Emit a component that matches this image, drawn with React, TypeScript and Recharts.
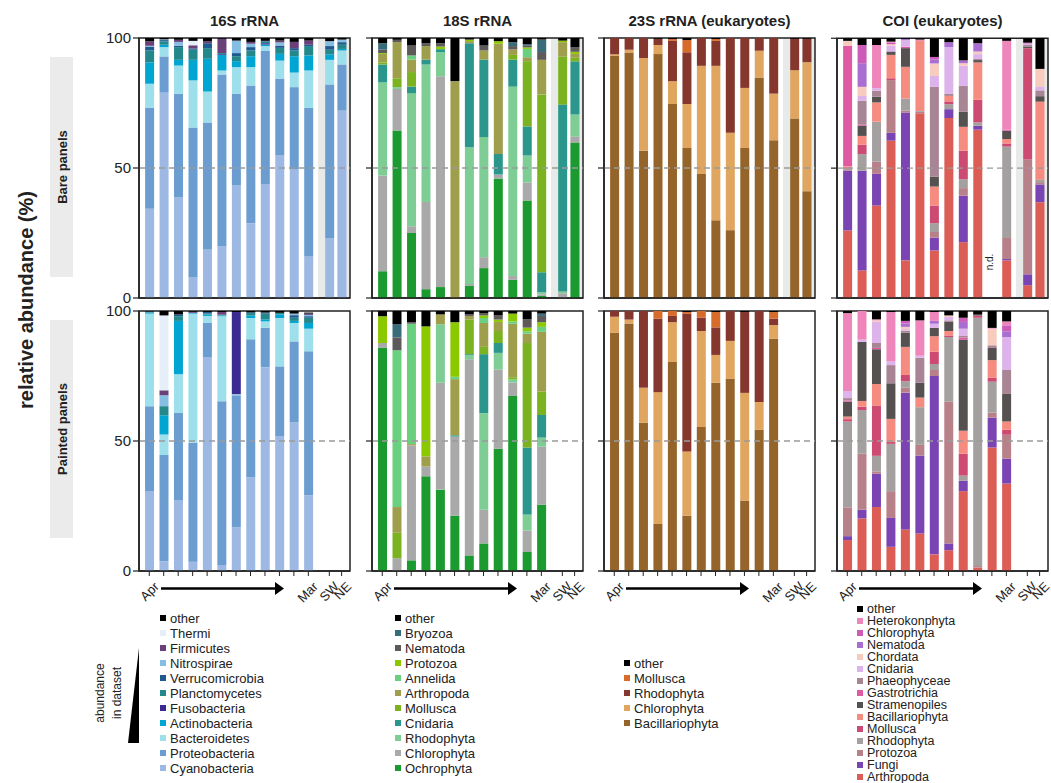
import { BarChart, Bar, XAxis, YAxis, ReferenceArea, ReferenceLine } from 'recharts';

const FONT = '"Liberation Sans", Arial, Helvetica, sans-serif';
const INK = '#222';

// x slot of every sample: 12 months Apr..Mar, then the SW and NE sites
const slotX = [1, 2, 3, 4, 5, 6, 7, 8, 9, 10, 11, 12, 13.45, 14.3];
const tickLabels = ['Apr', '', '', '', '', '', '', '', '', '', '', 'Mar', 'SW', 'NE'];
const DOMAIN: [number, number] = [0.29, 14.88];

// ---- 16S rRNA (stack order bottom -> top) ----
const taxa16S = ['Cyanobacteria', 'Proteobacteria', 'Bacteroidetes', 'Actinobacteria', 'Fusobacteria', 'Planctomycetes', 'Verrucomicrobia', 'Nitrospirae', 'Firmicutes', 'Thermi', 'other'];
const colors16S = ['#9db9e3', '#6b9dd0', '#9ddfea', '#00a5d2', '#3a2a92', '#24878a', '#1f5a8e', '#86bde2', '#6a4079', '#e5eef9', '#000000'];
const bare16S = [
  [34.3, 38.8, 9.3, 8.2, 0, 4.6, 1.5, 0.3, 1.7, 0, 1.3],
  [79, 13.9, 3.6, 0.9, 0, 1.3, 0.5, 0.3, 0, 0, 0.5],
  [38.7, 39.8, 10.9, 2.2, 0, 4.9, 0.5, 1.5, 0.8, 0, 0.7],
  [7.9, 57.7, 18.1, 7.9, 0, 3.9, 0.5, 0, 1.2, 1.7, 1.1],
  [18.7, 48.8, 11.9, 12.6, 0, 4.1, 1.9, 0, 0.8, 0, 1.2],
  [19.8, 66.2, 1.5, 6, 0.3, 0.4, 0, 0, 5.5, 0, 0.3],
  [43.3, 35.2, 10.3, 2.3, 0, 1.9, 1.2, 4.8, 0, 0, 1],
  [28.8, 52.9, 7.1, 4.2, 0, 2.2, 1.3, 1.3, 0.7, 0, 1.5],
  [43.8, 51.2, 1.9, 0.6, 0.5, 0.6, 0.3, 0, 0, 0, 1.1],
  [54.8, 29.6, 6.9, 2.6, 0, 2.3, 0.9, 1.2, 0.7, 0, 1],
  [49.4, 31.7, 5.6, 6.3, 0, 2.2, 0.9, 0, 2.4, 0, 1.5],
  [16, 57.1, 14.4, 5.8, 0, 3.6, 0.5, 0, 1.6, 0, 1],
  [23.1, 59, 9.5, 2.1, 0, 1.8, 1.4, 1.9, 0, 0, 1.2],
  [72.1, 17.7, 5.4, 0.6, 0, 1.6, 1, 1, 0, 0, 0.6],
];
const painted16S = [
  [30.7, 32.7, 35.6, 0.4, 0, 0.2, 0.2, 0, 0, 0, 0.2],
  [3.8, 40.8, 7.9, 7.4, 0, 3.5, 0, 4.2, 1.9, 28.8, 1.7],
  [27.3, 33.5, 14.9, 20.5, 0, 1.8, 0.7, 0, 0, 0, 1.3],
  [3.6, 45.7, 49.7, 0.3, 0, 0, 0, 0, 0.4, 0, 0.3],
  [82.3, 13.1, 2.7, 0.6, 0, 0.3, 0.6, 0, 0, 0, 0.4],
  [2.3, 63, 32.7, 0.3, 0, 0.3, 0, 0, 1, 0, 0.4],
  [16.9, 50.7, 0.4, 0, 31.6, 0, 0, 0, 0, 0, 0.4],
  [36.1, 53, 8.2, 1, 0, 0.9, 0.3, 0, 0, 0, 0.5],
  [78.4, 15.1, 2.5, 0.8, 0, 2.2, 0.4, 0, 0, 0, 0.6],
  [51.9, 26.8, 18.6, 1.4, 0, 0.6, 0, 0, 0, 0, 0.7],
  [57.2, 31.1, 7.1, 0.8, 0, 1.2, 1, 0.6, 0, 0, 1],
  [29.2, 55.3, 8.7, 2.2, 0, 2, 0.6, 0.5, 0.5, 0, 0.4],
];

// ---- 18S rRNA ----
const taxa18S = ['Ochrophyta', 'Chlorophyta', 'Rhodophyta', 'Cnidaria', 'Mollusca', 'Arthropoda', 'Annelida', 'Protozoa', 'Nematoda', 'Bryozoa', 'other'];
const colors18S = ['#1a9a2f', '#a9a9a9', '#7ecd95', '#2a968c', '#7ab31f', '#9f9e4c', '#68d07f', '#8cc800', '#5e5a5a', '#386c7a', '#000000'];
const bare18S = [
  [10.3, 36.8, 35.8, 6.9, 0.8, 3.3, 0, 0.3, 1.3, 2.5, 2],
  [64.4, 16, 0.7, 0, 3.4, 13.9, 0, 0, 0.9, 0, 0.7],
  [25, 2.6, 51.2, 2.5, 5.6, 4.8, 1.6, 0, 3.8, 0, 2.9],
  [3.4, 33.5, 52.9, 1.9, 0, 5.2, 0, 0, 1.1, 0, 2],
  [4.2, 81.1, 9.3, 1.1, 0, 0, 0, 1, 1.3, 0, 2],
  [0, 0, 0, 0, 0, 83.4, 0, 0, 0, 0, 16.6],
  [4.8, 0.6, 52.6, 40, 0, 0.8, 0, 0.6, 0, 0, 0.6],
  [11.5, 4.2, 46.2, 29.8, 0, 3.5, 0, 0, 1.9, 0, 2.9],
  [46, 1.5, 0, 7.9, 0, 42.4, 0, 1, 0, 0, 1.2],
  [7, 1.5, 72.8, 10.4, 1.8, 2.1, 0, 0, 1.3, 1.5, 1.6],
  [37.5, 6.9, 10.4, 11.2, 25.1, 1.5, 3.2, 0.6, 0.6, 0.6, 2.4],
  [0.8, 0.6, 0.8, 7.7, 68.4, 13.3, 0, 0, 3, 4.8, 0.6],
  [0, 1.8, 0.7, 71.9, 18.5, 5.5, 0, 0.6, 0, 0, 1],
  [59.8, 2.3, 8.5, 20.4, 1.4, 1.5, 0, 0.8, 1.8, 0, 3.5],
];
const painted18S = [
  [85.8, 1.9, 0, 0, 0, 0, 0, 10.3, 0, 0, 2],
  [0, 4.9, 0, 0, 9.8, 9.9, 60.3, 0, 4.9, 5.1, 5.1],
  [4.1, 44.2, 0, 0, 0, 0.5, 46.3, 0, 0.6, 0, 4.3],
  [36.4, 3.8, 0, 0, 0, 3.9, 0, 50, 0, 0, 5.9],
  [31.3, 41.1, 22.5, 0, 0, 3.8, 0, 0, 0, 0, 1.3],
  [21.3, 30.4, 0, 0.5, 0, 21.6, 0.9, 21, 0, 0, 4.3],
  [6, 75.4, 1.6, 0.4, 13.3, 1.4, 0, 0, 0.6, 0, 1.3],
  [10.6, 13, 37.1, 22.7, 2.8, 9.2, 1.9, 1, 0.9, 0, 0.8],
  [47, 30.5, 6.4, 3.8, 4.6, 3.5, 0, 0.9, 1.6, 0, 1.7],
  [67.3, 5.2, 1.2, 0, 0.8, 20.6, 0.9, 3, 0, 0, 1],
  [7.3, 8.3, 6.1, 25.8, 40.2, 3.6, 0.9, 1.4, 3.2, 0, 3.2],
  [25.5, 22.3, 3.5, 8.7, 9, 23, 1.9, 1.8, 2.4, 0.9, 1],
];

// ---- 23S rRNA (eukaryotes) ----
const taxa23S = ['Bacillariophyta', 'Chlorophyta', 'Rhodophyta', 'Mollusca', 'other'];
const colors23S = ['#94642a', '#e0a65f', '#85372d', '#d86a2a', '#000000'];
const bare23S = [
  [93.1, 0.6, 6.3, 0, 0],
  [94.4, 1.1, 4.5, 0, 0],
  [56.6, 35.7, 7.7, 0, 0],
  [93.8, 3.5, 2.4, 0, 0.3],
  [74.6, 8.8, 15.5, 0.7, 0.4],
  [57.7, 16.9, 19.9, 4.7, 0.8],
  [47.7, 41.6, 10.7, 0, 0],
  [29.9, 59.4, 9.6, 0.7, 0.4],
  [26.1, 37.5, 36.4, 0, 0],
  [57.7, 23.1, 19.2, 0, 0],
  [84.8, 10.3, 4.9, 0, 0],
  [60.7, 17.9, 21.4, 0, 0],
  [69, 18.6, 12.1, 0, 0.3],
  [41.1, 49.6, 9, 0, 0.3],
];
const painted23S = [
  [91.6, 6.2, 2.2, 0, 0],
  [95.2, 1.5, 3.3, 0, 0],
  [57, 13.5, 29.5, 0, 0],
  [18.1, 50.7, 28.3, 2.9, 0],
  [80.4, 15.3, 2.4, 1.9, 0],
  [21.3, 24.7, 52.9, 0.7, 0.4],
  [55.4, 36.9, 5.2, 2.5, 0],
  [72.4, 10.7, 10.6, 5.9, 0.4],
  [73.9, 14.6, 11.5, 0, 0],
  [27.1, 41.4, 31.1, 0, 0.4],
  [54.3, 10.7, 35, 0, 0],
  [89.3, 5.3, 2.5, 2.5, 0.4],
];

// ---- COI (eukaryotes) ----
const taxaCOI = ['Arthropoda', 'Fungi', 'Protozoa', 'Rhodophyta', 'Mollusca', 'Bacillariophyta', 'Stramenopiles', 'Gastrotrichia', 'Phaeophyceae', 'Cnidaria', 'Chordata', 'Nematoda', 'Chlorophyta', 'Heterokonphyta', 'other'];
const colorsCOI = ['#dc5d55', '#7a45b3', '#b8818a', '#a3a09f', '#cd4a72', '#f68b80', '#555151', '#e05aa3', '#a88595', '#dcb3ea', '#f7cbbd', '#a86ed2', '#cc5cb8', '#ef86bb', '#000000'];
const bareCOI = [
  [26, 23, 0.6, 0.6, 0.3, 0.3, 0, 46.3, 0, 0, 1.9, 0, 0, 0, 1],
  [10.6, 38.4, 0, 6.4, 3.6, 3.4, 3.9, 0.4, 9.2, 1.9, 3.5, 9.1, 7, 0, 2.6],
  [35.6, 12.2, 4.7, 15.4, 0, 7.4, 2.2, 0, 2.3, 1, 0, 0, 0, 16.6, 2.6],
  [60.6, 3, 20.3, 0, 0.7, 9, 1.3, 0, 0, 2.3, 0.5, 0, 0.5, 0.5, 1.3],
  [14.5, 56.9, 0.7, 4.7, 0, 12.2, 7.2, 0.5, 0, 2.6, 0, 0.4, 0, 0, 0.3],
  [71.1, 0, 0.6, 0.3, 0, 27.2, 0, 0, 0, 0, 0, 0, 0.3, 0, 0.5],
  [18.3, 4.9, 2.2, 3.4, 6.8, 7.3, 3.8, 0, 34.6, 4.2, 4.8, 1.6, 0.9, 0, 7.2],
  [69.3, 3.4, 0, 1.9, 1.1, 2.1, 0, 0, 0.9, 17.9, 0, 1.9, 0, 0, 1.4],
  [21.5, 17.9, 2.9, 3.4, 11, 9.2, 5.8, 0, 10, 7.7, 1, 1.1, 0, 0, 8.5],
  [64.8, 1.5, 0, 1.3, 8.7, 14.4, 0.9, 0, 0.4, 1.9, 1, 3.2, 0, 0, 1.9],
  null,
  [14.5, 0.5, 8.1, 35.2, 1.2, 1.7, 3.2, 0.4, 0, 0, 0, 0, 0, 34.2, 1],
  [4.9, 4.2, 44.2, 0, 42.9, 0, 0.6, 0, 0.6, 0.6, 0, 0, 0.3, 0, 1.7],
  [36.9, 6.8, 0.9, 0.9, 0, 30.1, 2.1, 0, 2.2, 1.5, 6.8, 0, 0, 0, 11.9],
];
const paintedCOI = [
  [11.9, 1.5, 11.1, 33, 0.9, 1, 5.7, 0.5, 0.9, 2.7, 0, 0, 0, 30, 0.8],
  [20.2, 3.4, 21.5, 16.8, 1.3, 2.2, 22.7, 0, 0, 0.9, 0, 0, 0, 11, 0],
  [24.6, 12.8, 0.9, 6, 19.2, 8.4, 13.4, 0.5, 1.9, 8.1, 0.6, 0, 0, 0.4, 3.2],
  [9.3, 11.1, 10.3, 18.2, 0.7, 8.9, 13.7, 0, 7, 1.5, 0, 0, 0, 18.9, 0.4],
  [16, 52.6, 1.9, 2.5, 2.4, 10.8, 5.4, 0, 0.8, 0.6, 0.9, 1.3, 1, 0, 3.8],
  [14.4, 30, 4.1, 14.5, 0, 3.7, 5.7, 0, 9.6, 0.8, 0, 0, 0, 13.6, 3.6],
  [6.4, 68.6, 2.3, 2.3, 4.7, 6, 3.2, 0, 0, 1.6, 0, 1.1, 0, 3.4, 0.4],
  [8, 2.6, 54.5, 24.9, 0.6, 1.7, 3.5, 0, 0.6, 1.3, 0.6, 0, 0, 0, 1.7],
  [30.7, 4, 0, 2, 8.4, 8.8, 35.1, 0.8, 0.6, 2.8, 0, 2.6, 1.6, 0, 2.6],
  [1.3, 0, 0.6, 95.5, 0.9, 0, 0.3, 0, 0, 0, 0, 0, 0, 0, 1.4],
  [47.5, 11.5, 1.9, 11.9, 1.5, 6.8, 4.7, 0, 1, 0, 6.4, 0, 0, 0.3, 6.5],
  [33.6, 9.6, 9.2, 0, 1.9, 3.2, 10.6, 0, 9.2, 12.7, 0, 2.2, 2.3, 1.5, 4],
];

const panels = [
  { title: '16S rRNA', taxa: taxa16S, colors: colors16S, bare: bare16S, painted: painted16S },
  { title: '18S rRNA', taxa: taxa18S, colors: colors18S, bare: bare18S, painted: painted18S },
  { title: '23S rRNA (eukaryotes)', taxa: taxa23S, colors: colors23S, bare: bare23S, painted: painted23S },
  { title: 'COI (eukaryotes)', taxa: taxaCOI, colors: colorsCOI, bare: bareCOI, painted: paintedCOI },
];

// layout
const PLOT_W = 211;
const PLOT_H = 260;
const PAD_T = 10;
const PAD_R = 20;
const colLeft = [139, 372, 604, 837];
const rowTop = [38, 311];
const legendTop = [618, 618, 663, 609];
const legendStep = [15, 15, 15, 12];
const legendFont = [13, 13, 13, 12.5];
const legendLeft = [160, 395, 624, 857];

function toRows(bars: (number[] | null)[], keys: string[]) {
  return bars.flatMap((vals, i) =>
    vals ? [{ x: slotX[i], ...Object.fromEntries(keys.map((k, j) => [k, vals[j]])) }] : []
  );
}

function MonthTick(props: any) {
  const { x, y, payload } = props;
  const label = tickLabels[slotX.indexOf(payload.value)];
  if (!label) return <g />;
  const ax = x + 4;
  const ay = y + 3;
  return (
    <text x={ax} y={ay} textAnchor="end" fontSize={13} fill={INK} fontFamily={FONT}
      transform={`rotate(-45 ${ax} ${ay})`} dy="0.7em">
      {label}
    </text>
  );
}

function Panel({ col, row }: { col: number; row: number }) {
  const p = panels[col];
  const data = toRows(row === 0 ? p.bare : p.painted, p.taxa);
  const axisH = row === 0 ? 2 : 40;
  const padB = row === 0 ? 10 : 0;
  const showY = col === 0;
  return (
    <div style={{ position: 'absolute', left: colLeft[col] - 40, top: rowTop[row] - PAD_T }}>
      <BarChart width={40 + PLOT_W + PAD_R} height={PAD_T + PLOT_H + axisH + padB} data={data}
        margin={{ top: PAD_T, right: PAD_R, bottom: padB, left: 0 }}>
        {row === 0 && (
          <ReferenceArea x1={12.67} x2={13.76} y1={0} y2={100} fill="#e8eae9" fillOpacity={1} stroke="none" />
        )}
        {row === 0 && (
          <ReferenceArea x1={13.99} x2={DOMAIN[1]} y1={0} y2={100} fill="#e8eae9" fillOpacity={1} stroke="none" />
        )}
        <ReferenceLine y={50} stroke="#9a9a9a" strokeDasharray="6 4" strokeWidth={1.3} />
        <XAxis type="number" dataKey="x" domain={DOMAIN} allowDataOverflow ticks={slotX} interval={0}
          height={axisH} tickSize={5}
          axisLine={{ stroke: INK, strokeWidth: 1.5 }}
          tickLine={row === 1 ? { stroke: INK } : false}
          tick={row === 1 ? <MonthTick /> : false} />
        <YAxis type="number" domain={[0, 100]} ticks={[0, 50, 100]} interval={0} width={40} tickSize={6}
          axisLine={{ stroke: INK, strokeWidth: 1.5 }} tickLine={{ stroke: INK, strokeWidth: 1.2 }}
          tick={showY ? { fontSize: 15, fill: INK, fontFamily: FONT } : () => <g />} />
        {p.taxa.map((k, j) => (
          <Bar key={k} dataKey={k} stackId="s" fill={p.colors[j]} barSize={9} isAnimationActive={false} />
        ))}
        <ReferenceArea x1={DOMAIN[0]} x2={DOMAIN[1]} y1={0} y2={100} fill="none" stroke={INK} strokeWidth={1.5} />
      </BarChart>
    </div>
  );
}

export default function App() {
  return (
    <div style={{ position: 'absolute', left: 0, top: 0, width: 1051, height: 783, background: '#fff', fontFamily: FONT }}>
      <svg width={1051} height={783} style={{ position: 'absolute', left: 0, top: 0 }}>
        <text x={26} y={300} transform="rotate(-90 26 300)" textAnchor="middle" dominantBaseline="central"
          fontSize={20} fontWeight="bold" fill={INK}>relative abundance (%)</text>
        <rect x={50} y={57} width={23} height={220} fill="#ebebeb" />
        <text x={62} y={167} transform="rotate(-90 62 167)" textAnchor="middle" dominantBaseline="central"
          fontSize={13} fontWeight="bold" fill={INK}>Bare panels</text>
        <rect x={50} y={320} width={23} height={218} fill="#ebebeb" />
        <text x={62} y={429} transform="rotate(-90 62 429)" textAnchor="middle" dominantBaseline="central"
          fontSize={13} fontWeight="bold" fill={INK}>Painted panels</text>

        {panels.map((p, c) => (
          <text key={p.title} x={colLeft[c] + PLOT_W / 2} y={20} textAnchor="middle" dominantBaseline="central"
            fontSize={15} fontWeight="bold" fill={INK}>{p.title}</text>
        ))}

        {colLeft.map((l) => (
          <g key={l}>
            <line x1={l + 22} y1={588.5} x2={l + 137} y2={588.5} stroke="#000" strokeWidth={2.5} />
            <polygon points={`${l + 136},582 ${l + 145},588.5 ${l + 136},595`} fill="#000" />
          </g>
        ))}

        <text x={989} y={262} transform="rotate(-90 989 262)" textAnchor="middle" dominantBaseline="central"
          fontSize={10} fill={INK}>n.d.</text>

        <text x={100} y={693} transform="rotate(-90 100 693)" textAnchor="middle" dominantBaseline="central"
          fontSize={12} fill={INK}>abundance</text>
        <text x={117} y={693} transform="rotate(-90 117 693)" textAnchor="middle" dominantBaseline="central"
          fontSize={12} fill={INK}>in dataset</text>
        <polygon points="139,648 128,743 139,743" fill="#000" />

        {panels.map((p, c) =>
          p.taxa.slice().reverse().map((name, i) => {
            const cy = legendTop[c] + i * legendStep[c];
            const color = p.colors[p.taxa.length - 1 - i];
            return (
              <g key={`${c}-${name}`}>
                <rect x={legendLeft[c]} y={cy - 3} width={6} height={6} fill={color} />
                <text x={legendLeft[c] + 10} y={cy} dominantBaseline="central" fontSize={legendFont[c]} fill={INK}>{name}</text>
              </g>
            );
          })
        )}
      </svg>
      {[0, 1].map((r) => [0, 1, 2, 3].map((c) => <Panel key={`${r}-${c}`} col={c} row={r} />))}
    </div>
  );
}
